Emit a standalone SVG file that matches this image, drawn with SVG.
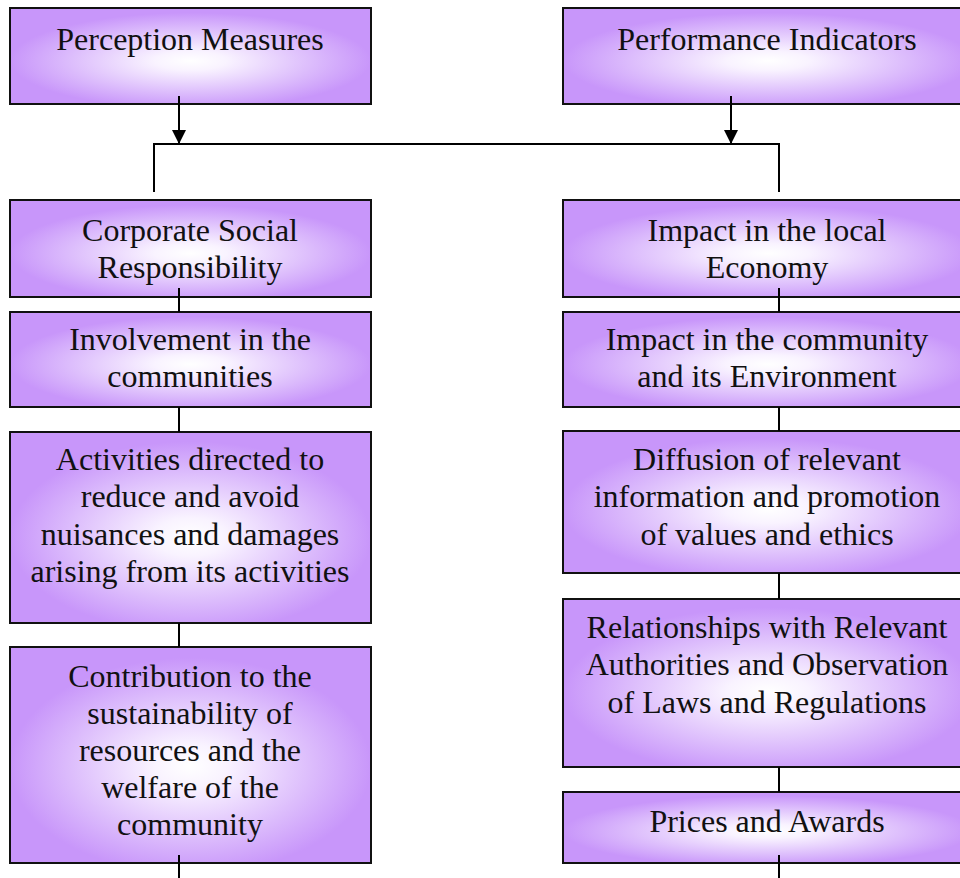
<svg xmlns="http://www.w3.org/2000/svg" width="960" height="878" viewBox="0 0 960 878">
<style>
.box{stroke:#111;stroke-width:2;fill:url(#g)}
.t{font-family:"Liberation Serif","Times New Roman",serif;font-size:32px;fill:#111;text-anchor:middle}
.c{stroke:#000;stroke-width:2;fill:none}
</style>
<defs>
<radialGradient id="g" cx="0.5" cy="0.55" r="0.5">
<stop offset="0" stop-color="#ffffff"/>
<stop offset="0.2" stop-color="#f9f3ff"/>
<stop offset="1" stop-color="#c896fa"/>
</radialGradient>
<marker id="arr" viewBox="0 0 14 14" refX="14" refY="7" markerWidth="14" markerHeight="14" markerUnits="userSpaceOnUse" orient="auto">
<path d="M0,0 L14,7 L0,14 Z" fill="#000"/>
</marker>
</defs>
<rect width="960" height="878" fill="#fff"/>
<g id="perception"><rect class="box" x="10" y="8" width="361" height="96"/><text class="t" x="190" y="50">Perception Measures</text></g>
<g id="performance"><rect class="box" x="563" y="8" width="410" height="96"/><text class="t" x="767" y="50">Performance Indicators</text></g>
<g id="csr"><rect class="box" x="10" y="200" width="361" height="97"/><text class="t" x="190" y="241">Corporate Social</text><text class="t" x="190" y="278">Responsibility</text></g>
<g id="economy"><rect class="box" x="563" y="200" width="410" height="97"/><text class="t" x="767" y="241">Impact in the local</text><text class="t" x="767" y="278">Economy</text></g>
<g id="involvement"><rect class="box" x="10" y="312" width="361" height="95"/><text class="t" x="190" y="350">Involvement in the</text><text class="t" x="190" y="387">communities</text></g>
<g id="community"><rect class="box" x="563" y="312" width="410" height="95"/><text class="t" x="767" y="350">Impact in the community</text><text class="t" x="767" y="387">and its Environment</text></g>
<g id="activities"><rect class="box" x="10" y="432" width="361" height="191"/><text class="t" x="190" y="470">Activities directed to</text><text class="t" x="190" y="507">reduce and avoid</text><text class="t" x="190" y="545">nuisances and damages</text><text class="t" x="190" y="582">arising from its activities</text></g>
<g id="diffusion"><rect class="box" x="563" y="431" width="410" height="142"/><text class="t" x="767" y="470">Diffusion of relevant</text><text class="t" x="767" y="507">information and promotion</text><text class="t" x="767" y="545">of values and ethics</text></g>
<g id="contribution"><rect class="box" x="10" y="647" width="361" height="216"/><text class="t" x="190" y="687">Contribution to the</text><text class="t" x="190" y="724">sustainability of</text><text class="t" x="190" y="761">resources and the</text><text class="t" x="190" y="798">welfare of the</text><text class="t" x="190" y="835">community</text></g>
<g id="relationships"><rect class="box" x="563" y="599" width="410" height="168"/><text class="t" x="767" y="638">Relationships with Relevant</text><text class="t" x="767" y="675">Authorities and Observation</text><text class="t" x="767" y="713">of Laws and Regulations</text></g>
<g id="prices"><rect class="box" x="563" y="792" width="410" height="71"/><text class="t" x="767" y="832">Prices and Awards</text></g>
<g id="connectors">
<line class="c" x1="179" y1="96" x2="179" y2="144" marker-end="url(#arr)"/>
<line class="c" x1="731" y1="96" x2="731" y2="144" marker-end="url(#arr)"/>
<polyline class="c" points="154,192 154,144 779,144 779,192"/>
<line class="c" x1="179" y1="288" x2="179" y2="312"/>
<line class="c" x1="179" y1="407" x2="179" y2="432"/>
<line class="c" x1="179" y1="623" x2="179" y2="647"/>
<line class="c" x1="179" y1="855" x2="179" y2="878"/>
<line class="c" x1="779" y1="288" x2="779" y2="312"/>
<line class="c" x1="779" y1="407" x2="779" y2="431"/>
<line class="c" x1="779" y1="573" x2="779" y2="599"/>
<line class="c" x1="779" y1="767" x2="779" y2="792"/>
<line class="c" x1="779" y1="855" x2="779" y2="878"/>
</g>
</svg>
